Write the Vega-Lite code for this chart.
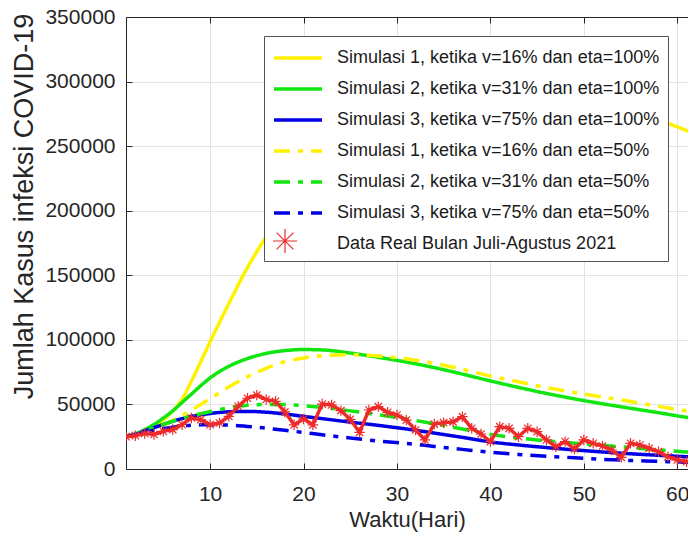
{
  "$schema": "https://vega.github.io/schema/vega-lite/v6.json",
  "width": 562,
  "height": 452,
  "autosize": {"type": "none"},
  "padding": {"left": 126, "top": 17, "right": 0, "bottom": 67},
  "background": "white",
  "config": {
    "view": {"stroke": null},
    "font": "Liberation Sans",
    "axis": {
      "domainColor": "#262626",
      "tickColor": "#262626",
      "labelColor": "#262626",
      "titleColor": "#262626",
      "gridColor": "#e3e3e3",
      "labelFont": "Liberation Sans",
      "titleFont": "Liberation Sans",
      "labelFontSize": 21,
      "titleFontWeight": "normal",
      "tickSize": -6
    }
  },
  "data": {
    "values": [
      {"series": "Simulasi 1, ketika v=16% dan eta=100%", "day": 1, "cases": 25000},
      {"series": "Simulasi 1, ketika v=16% dan eta=100%", "day": 2, "cases": 26500},
      {"series": "Simulasi 1, ketika v=16% dan eta=100%", "day": 3, "cases": 29000},
      {"series": "Simulasi 1, ketika v=16% dan eta=100%", "day": 4, "cases": 33000},
      {"series": "Simulasi 1, ketika v=16% dan eta=100%", "day": 5, "cases": 38000},
      {"series": "Simulasi 1, ketika v=16% dan eta=100%", "day": 6, "cases": 45000},
      {"series": "Simulasi 1, ketika v=16% dan eta=100%", "day": 7, "cases": 54000},
      {"series": "Simulasi 1, ketika v=16% dan eta=100%", "day": 8, "cases": 68000},
      {"series": "Simulasi 1, ketika v=16% dan eta=100%", "day": 9, "cases": 83000},
      {"series": "Simulasi 1, ketika v=16% dan eta=100%", "day": 10, "cases": 98500},
      {"series": "Simulasi 1, ketika v=16% dan eta=100%", "day": 12, "cases": 128000},
      {"series": "Simulasi 1, ketika v=16% dan eta=100%", "day": 14, "cases": 156000},
      {"series": "Simulasi 1, ketika v=16% dan eta=100%", "day": 16, "cases": 180000},
      {"series": "Simulasi 1, ketika v=16% dan eta=100%", "day": 18, "cases": 203000},
      {"series": "Simulasi 1, ketika v=16% dan eta=100%", "day": 20, "cases": 225000},
      {"series": "Simulasi 1, ketika v=16% dan eta=100%", "day": 22, "cases": 245000},
      {"series": "Simulasi 1, ketika v=16% dan eta=100%", "day": 25, "cases": 272000},
      {"series": "Simulasi 1, ketika v=16% dan eta=100%", "day": 28, "cases": 293000},
      {"series": "Simulasi 1, ketika v=16% dan eta=100%", "day": 31, "cases": 307000},
      {"series": "Simulasi 1, ketika v=16% dan eta=100%", "day": 34, "cases": 315000},
      {"series": "Simulasi 1, ketika v=16% dan eta=100%", "day": 37, "cases": 318000},
      {"series": "Simulasi 1, ketika v=16% dan eta=100%", "day": 40, "cases": 316000},
      {"series": "Simulasi 1, ketika v=16% dan eta=100%", "day": 43, "cases": 311000},
      {"series": "Simulasi 1, ketika v=16% dan eta=100%", "day": 46, "cases": 303000},
      {"series": "Simulasi 1, ketika v=16% dan eta=100%", "day": 49, "cases": 295000},
      {"series": "Simulasi 1, ketika v=16% dan eta=100%", "day": 52, "cases": 287000},
      {"series": "Simulasi 1, ketika v=16% dan eta=100%", "day": 55, "cases": 278500},
      {"series": "Simulasi 1, ketika v=16% dan eta=100%", "day": 58, "cases": 270500},
      {"series": "Simulasi 1, ketika v=16% dan eta=100%", "day": 61, "cases": 262000},
      {"series": "Simulasi 1, ketika v=16% dan eta=100%", "day": 62, "cases": 259000},

      {"series": "Simulasi 2, ketika v=31% dan eta=100%", "day": 1, "cases": 25000},
      {"series": "Simulasi 2, ketika v=31% dan eta=100%", "day": 2, "cases": 27200},
      {"series": "Simulasi 2, ketika v=31% dan eta=100%", "day": 3, "cases": 30500},
      {"series": "Simulasi 2, ketika v=31% dan eta=100%", "day": 4, "cases": 34500},
      {"series": "Simulasi 2, ketika v=31% dan eta=100%", "day": 5, "cases": 39500},
      {"series": "Simulasi 2, ketika v=31% dan eta=100%", "day": 6, "cases": 45000},
      {"series": "Simulasi 2, ketika v=31% dan eta=100%", "day": 7, "cases": 51500},
      {"series": "Simulasi 2, ketika v=31% dan eta=100%", "day": 8, "cases": 58000},
      {"series": "Simulasi 2, ketika v=31% dan eta=100%", "day": 9, "cases": 64500},
      {"series": "Simulasi 2, ketika v=31% dan eta=100%", "day": 10, "cases": 70500},
      {"series": "Simulasi 2, ketika v=31% dan eta=100%", "day": 12, "cases": 79500},
      {"series": "Simulasi 2, ketika v=31% dan eta=100%", "day": 14, "cases": 85500},
      {"series": "Simulasi 2, ketika v=31% dan eta=100%", "day": 16, "cases": 89500},
      {"series": "Simulasi 2, ketika v=31% dan eta=100%", "day": 18, "cases": 91700},
      {"series": "Simulasi 2, ketika v=31% dan eta=100%", "day": 20, "cases": 92500},
      {"series": "Simulasi 2, ketika v=31% dan eta=100%", "day": 22, "cases": 92200},
      {"series": "Simulasi 2, ketika v=31% dan eta=100%", "day": 25, "cases": 89800},
      {"series": "Simulasi 2, ketika v=31% dan eta=100%", "day": 28, "cases": 86500},
      {"series": "Simulasi 2, ketika v=31% dan eta=100%", "day": 31, "cases": 82800},
      {"series": "Simulasi 2, ketika v=31% dan eta=100%", "day": 34, "cases": 78500},
      {"series": "Simulasi 2, ketika v=31% dan eta=100%", "day": 37, "cases": 73500},
      {"series": "Simulasi 2, ketika v=31% dan eta=100%", "day": 40, "cases": 68200},
      {"series": "Simulasi 2, ketika v=31% dan eta=100%", "day": 43, "cases": 63200},
      {"series": "Simulasi 2, ketika v=31% dan eta=100%", "day": 46, "cases": 58500},
      {"series": "Simulasi 2, ketika v=31% dan eta=100%", "day": 49, "cases": 54300},
      {"series": "Simulasi 2, ketika v=31% dan eta=100%", "day": 52, "cases": 50500},
      {"series": "Simulasi 2, ketika v=31% dan eta=100%", "day": 55, "cases": 47000},
      {"series": "Simulasi 2, ketika v=31% dan eta=100%", "day": 58, "cases": 43600},
      {"series": "Simulasi 2, ketika v=31% dan eta=100%", "day": 61, "cases": 40000},
      {"series": "Simulasi 2, ketika v=31% dan eta=100%", "day": 62, "cases": 39000},

      {"series": "Simulasi 3, ketika v=75% dan eta=100%", "day": 1, "cases": 25000},
      {"series": "Simulasi 3, ketika v=75% dan eta=100%", "day": 2, "cases": 27000},
      {"series": "Simulasi 3, ketika v=75% dan eta=100%", "day": 3, "cases": 29500},
      {"series": "Simulasi 3, ketika v=75% dan eta=100%", "day": 4, "cases": 32000},
      {"series": "Simulasi 3, ketika v=75% dan eta=100%", "day": 5, "cases": 34500},
      {"series": "Simulasi 3, ketika v=75% dan eta=100%", "day": 6, "cases": 37000},
      {"series": "Simulasi 3, ketika v=75% dan eta=100%", "day": 7, "cases": 39000},
      {"series": "Simulasi 3, ketika v=75% dan eta=100%", "day": 8, "cases": 40800},
      {"series": "Simulasi 3, ketika v=75% dan eta=100%", "day": 9, "cases": 42000},
      {"series": "Simulasi 3, ketika v=75% dan eta=100%", "day": 10, "cases": 43000},
      {"series": "Simulasi 3, ketika v=75% dan eta=100%", "day": 12, "cases": 44300},
      {"series": "Simulasi 3, ketika v=75% dan eta=100%", "day": 14, "cases": 44600},
      {"series": "Simulasi 3, ketika v=75% dan eta=100%", "day": 16, "cases": 44000},
      {"series": "Simulasi 3, ketika v=75% dan eta=100%", "day": 18, "cases": 42600},
      {"series": "Simulasi 3, ketika v=75% dan eta=100%", "day": 20, "cases": 40800},
      {"series": "Simulasi 3, ketika v=75% dan eta=100%", "day": 22, "cases": 39000},
      {"series": "Simulasi 3, ketika v=75% dan eta=100%", "day": 25, "cases": 36300},
      {"series": "Simulasi 3, ketika v=75% dan eta=100%", "day": 28, "cases": 33800},
      {"series": "Simulasi 3, ketika v=75% dan eta=100%", "day": 31, "cases": 31000},
      {"series": "Simulasi 3, ketika v=75% dan eta=100%", "day": 34, "cases": 27800},
      {"series": "Simulasi 3, ketika v=75% dan eta=100%", "day": 37, "cases": 24500},
      {"series": "Simulasi 3, ketika v=75% dan eta=100%", "day": 40, "cases": 21000},
      {"series": "Simulasi 3, ketika v=75% dan eta=100%", "day": 43, "cases": 18600},
      {"series": "Simulasi 3, ketika v=75% dan eta=100%", "day": 46, "cases": 16600},
      {"series": "Simulasi 3, ketika v=75% dan eta=100%", "day": 49, "cases": 14800},
      {"series": "Simulasi 3, ketika v=75% dan eta=100%", "day": 52, "cases": 13200},
      {"series": "Simulasi 3, ketika v=75% dan eta=100%", "day": 55, "cases": 11800},
      {"series": "Simulasi 3, ketika v=75% dan eta=100%", "day": 58, "cases": 10600},
      {"series": "Simulasi 3, ketika v=75% dan eta=100%", "day": 61, "cases": 9500},
      {"series": "Simulasi 3, ketika v=75% dan eta=100%", "day": 62, "cases": 9200},

      {"series": "Simulasi 1, ketika v=16% dan eta=50%", "day": 1, "cases": 25000},
      {"series": "Simulasi 1, ketika v=16% dan eta=50%", "day": 2, "cases": 26500},
      {"series": "Simulasi 1, ketika v=16% dan eta=50%", "day": 3, "cases": 28500},
      {"series": "Simulasi 1, ketika v=16% dan eta=50%", "day": 4, "cases": 31000},
      {"series": "Simulasi 1, ketika v=16% dan eta=50%", "day": 5, "cases": 34000},
      {"series": "Simulasi 1, ketika v=16% dan eta=50%", "day": 6, "cases": 37500},
      {"series": "Simulasi 1, ketika v=16% dan eta=50%", "day": 7, "cases": 41500},
      {"series": "Simulasi 1, ketika v=16% dan eta=50%", "day": 8, "cases": 45500},
      {"series": "Simulasi 1, ketika v=16% dan eta=50%", "day": 9, "cases": 50000},
      {"series": "Simulasi 1, ketika v=16% dan eta=50%", "day": 10, "cases": 54500},
      {"series": "Simulasi 1, ketika v=16% dan eta=50%", "day": 12, "cases": 63500},
      {"series": "Simulasi 1, ketika v=16% dan eta=50%", "day": 14, "cases": 71500},
      {"series": "Simulasi 1, ketika v=16% dan eta=50%", "day": 16, "cases": 78000},
      {"series": "Simulasi 1, ketika v=16% dan eta=50%", "day": 18, "cases": 83000},
      {"series": "Simulasi 1, ketika v=16% dan eta=50%", "day": 20, "cases": 86000},
      {"series": "Simulasi 1, ketika v=16% dan eta=50%", "day": 22, "cases": 87800},
      {"series": "Simulasi 1, ketika v=16% dan eta=50%", "day": 25, "cases": 88500},
      {"series": "Simulasi 1, ketika v=16% dan eta=50%", "day": 28, "cases": 87500},
      {"series": "Simulasi 1, ketika v=16% dan eta=50%", "day": 31, "cases": 85300},
      {"series": "Simulasi 1, ketika v=16% dan eta=50%", "day": 34, "cases": 81800},
      {"series": "Simulasi 1, ketika v=16% dan eta=50%", "day": 37, "cases": 77200},
      {"series": "Simulasi 1, ketika v=16% dan eta=50%", "day": 40, "cases": 72000},
      {"series": "Simulasi 1, ketika v=16% dan eta=50%", "day": 43, "cases": 67500},
      {"series": "Simulasi 1, ketika v=16% dan eta=50%", "day": 46, "cases": 63000},
      {"series": "Simulasi 1, ketika v=16% dan eta=50%", "day": 49, "cases": 59200},
      {"series": "Simulasi 1, ketika v=16% dan eta=50%", "day": 52, "cases": 55800},
      {"series": "Simulasi 1, ketika v=16% dan eta=50%", "day": 55, "cases": 52200},
      {"series": "Simulasi 1, ketika v=16% dan eta=50%", "day": 58, "cases": 48500},
      {"series": "Simulasi 1, ketika v=16% dan eta=50%", "day": 61, "cases": 45000},
      {"series": "Simulasi 1, ketika v=16% dan eta=50%", "day": 62, "cases": 44200},

      {"series": "Simulasi 2, ketika v=31% dan eta=50%", "day": 1, "cases": 25000},
      {"series": "Simulasi 2, ketika v=31% dan eta=50%", "day": 2, "cases": 27000},
      {"series": "Simulasi 2, ketika v=31% dan eta=50%", "day": 3, "cases": 29500},
      {"series": "Simulasi 2, ketika v=31% dan eta=50%", "day": 4, "cases": 32000},
      {"series": "Simulasi 2, ketika v=31% dan eta=50%", "day": 5, "cases": 34500},
      {"series": "Simulasi 2, ketika v=31% dan eta=50%", "day": 6, "cases": 37000},
      {"series": "Simulasi 2, ketika v=31% dan eta=50%", "day": 7, "cases": 39000},
      {"series": "Simulasi 2, ketika v=31% dan eta=50%", "day": 8, "cases": 41000},
      {"series": "Simulasi 2, ketika v=31% dan eta=50%", "day": 9, "cases": 42800},
      {"series": "Simulasi 2, ketika v=31% dan eta=50%", "day": 10, "cases": 44300},
      {"series": "Simulasi 2, ketika v=31% dan eta=50%", "day": 12, "cases": 47500},
      {"series": "Simulasi 2, ketika v=31% dan eta=50%", "day": 14, "cases": 49300},
      {"series": "Simulasi 2, ketika v=31% dan eta=50%", "day": 16, "cases": 50000},
      {"series": "Simulasi 2, ketika v=31% dan eta=50%", "day": 18, "cases": 49900},
      {"series": "Simulasi 2, ketika v=31% dan eta=50%", "day": 20, "cases": 49000},
      {"series": "Simulasi 2, ketika v=31% dan eta=50%", "day": 22, "cases": 47800},
      {"series": "Simulasi 2, ketika v=31% dan eta=50%", "day": 25, "cases": 45000},
      {"series": "Simulasi 2, ketika v=31% dan eta=50%", "day": 28, "cases": 42000},
      {"series": "Simulasi 2, ketika v=31% dan eta=50%", "day": 31, "cases": 38800},
      {"series": "Simulasi 2, ketika v=31% dan eta=50%", "day": 34, "cases": 35000},
      {"series": "Simulasi 2, ketika v=31% dan eta=50%", "day": 37, "cases": 31000},
      {"series": "Simulasi 2, ketika v=31% dan eta=50%", "day": 40, "cases": 26800},
      {"series": "Simulasi 2, ketika v=31% dan eta=50%", "day": 43, "cases": 24000},
      {"series": "Simulasi 2, ketika v=31% dan eta=50%", "day": 46, "cases": 21800},
      {"series": "Simulasi 2, ketika v=31% dan eta=50%", "day": 49, "cases": 20000},
      {"series": "Simulasi 2, ketika v=31% dan eta=50%", "day": 52, "cases": 18300},
      {"series": "Simulasi 2, ketika v=31% dan eta=50%", "day": 55, "cases": 16600},
      {"series": "Simulasi 2, ketika v=31% dan eta=50%", "day": 58, "cases": 14800},
      {"series": "Simulasi 2, ketika v=31% dan eta=50%", "day": 61, "cases": 13200},
      {"series": "Simulasi 2, ketika v=31% dan eta=50%", "day": 62, "cases": 12800},

      {"series": "Simulasi 3, ketika v=75% dan eta=50%", "day": 1, "cases": 25000},
      {"series": "Simulasi 3, ketika v=75% dan eta=50%", "day": 2, "cases": 26800},
      {"series": "Simulasi 3, ketika v=75% dan eta=50%", "day": 3, "cases": 28500},
      {"series": "Simulasi 3, ketika v=75% dan eta=50%", "day": 4, "cases": 30000},
      {"series": "Simulasi 3, ketika v=75% dan eta=50%", "day": 5, "cases": 31300},
      {"series": "Simulasi 3, ketika v=75% dan eta=50%", "day": 6, "cases": 32400},
      {"series": "Simulasi 3, ketika v=75% dan eta=50%", "day": 7, "cases": 33300},
      {"series": "Simulasi 3, ketika v=75% dan eta=50%", "day": 8, "cases": 33900},
      {"series": "Simulasi 3, ketika v=75% dan eta=50%", "day": 9, "cases": 34200},
      {"series": "Simulasi 3, ketika v=75% dan eta=50%", "day": 10, "cases": 34300},
      {"series": "Simulasi 3, ketika v=75% dan eta=50%", "day": 12, "cases": 34000},
      {"series": "Simulasi 3, ketika v=75% dan eta=50%", "day": 14, "cases": 33000},
      {"series": "Simulasi 3, ketika v=75% dan eta=50%", "day": 16, "cases": 31600},
      {"series": "Simulasi 3, ketika v=75% dan eta=50%", "day": 18, "cases": 30000},
      {"series": "Simulasi 3, ketika v=75% dan eta=50%", "day": 20, "cases": 28300},
      {"series": "Simulasi 3, ketika v=75% dan eta=50%", "day": 22, "cases": 26500},
      {"series": "Simulasi 3, ketika v=75% dan eta=50%", "day": 25, "cases": 24000},
      {"series": "Simulasi 3, ketika v=75% dan eta=50%", "day": 28, "cases": 21700},
      {"series": "Simulasi 3, ketika v=75% dan eta=50%", "day": 31, "cases": 19800},
      {"series": "Simulasi 3, ketika v=75% dan eta=50%", "day": 34, "cases": 17500},
      {"series": "Simulasi 3, ketika v=75% dan eta=50%", "day": 37, "cases": 15200},
      {"series": "Simulasi 3, ketika v=75% dan eta=50%", "day": 40, "cases": 13000},
      {"series": "Simulasi 3, ketika v=75% dan eta=50%", "day": 43, "cases": 11300},
      {"series": "Simulasi 3, ketika v=75% dan eta=50%", "day": 46, "cases": 9900},
      {"series": "Simulasi 3, ketika v=75% dan eta=50%", "day": 49, "cases": 8700},
      {"series": "Simulasi 3, ketika v=75% dan eta=50%", "day": 52, "cases": 7500},
      {"series": "Simulasi 3, ketika v=75% dan eta=50%", "day": 55, "cases": 6600},
      {"series": "Simulasi 3, ketika v=75% dan eta=50%", "day": 58, "cases": 5900},
      {"series": "Simulasi 3, ketika v=75% dan eta=50%", "day": 61, "cases": 5200},
      {"series": "Simulasi 3, ketika v=75% dan eta=50%", "day": 62, "cases": 5000},

      {"series": "Data Real Bulan Juli-Agustus 2021", "day": 1, "cases": 25000},
      {"series": "Data Real Bulan Juli-Agustus 2021", "day": 2, "cases": 25800},
      {"series": "Data Real Bulan Juli-Agustus 2021", "day": 3, "cases": 27500},
      {"series": "Data Real Bulan Juli-Agustus 2021", "day": 4, "cases": 26800},
      {"series": "Data Real Bulan Juli-Agustus 2021", "day": 5, "cases": 29200},
      {"series": "Data Real Bulan Juli-Agustus 2021", "day": 6, "cases": 30500},
      {"series": "Data Real Bulan Juli-Agustus 2021", "day": 7, "cases": 34300},
      {"series": "Data Real Bulan Juli-Agustus 2021", "day": 8, "cases": 39500},
      {"series": "Data Real Bulan Juli-Agustus 2021", "day": 9, "cases": 38200},
      {"series": "Data Real Bulan Juli-Agustus 2021", "day": 10, "cases": 34300},
      {"series": "Data Real Bulan Juli-Agustus 2021", "day": 11, "cases": 35600},
      {"series": "Data Real Bulan Juli-Agustus 2021", "day": 12, "cases": 40800},
      {"series": "Data Real Bulan Juli-Agustus 2021", "day": 13, "cases": 48600},
      {"series": "Data Real Bulan Juli-Agustus 2021", "day": 14, "cases": 54800},
      {"series": "Data Real Bulan Juli-Agustus 2021", "day": 15, "cases": 57200},
      {"series": "Data Real Bulan Juli-Agustus 2021", "day": 16, "cases": 53800},
      {"series": "Data Real Bulan Juli-Agustus 2021", "day": 17, "cases": 52400},
      {"series": "Data Real Bulan Juli-Agustus 2021", "day": 18, "cases": 44200},
      {"series": "Data Real Bulan Juli-Agustus 2021", "day": 19, "cases": 34200},
      {"series": "Data Real Bulan Juli-Agustus 2021", "day": 20, "cases": 38800},
      {"series": "Data Real Bulan Juli-Agustus 2021", "day": 21, "cases": 34200},
      {"series": "Data Real Bulan Juli-Agustus 2021", "day": 22, "cases": 50300},
      {"series": "Data Real Bulan Juli-Agustus 2021", "day": 23, "cases": 49600},
      {"series": "Data Real Bulan Juli-Agustus 2021", "day": 24, "cases": 45200},
      {"series": "Data Real Bulan Juli-Agustus 2021", "day": 25, "cases": 38500},
      {"series": "Data Real Bulan Juli-Agustus 2021", "day": 26, "cases": 28400},
      {"series": "Data Real Bulan Juli-Agustus 2021", "day": 27, "cases": 45700},
      {"series": "Data Real Bulan Juli-Agustus 2021", "day": 28, "cases": 48300},
      {"series": "Data Real Bulan Juli-Agustus 2021", "day": 29, "cases": 43900},
      {"series": "Data Real Bulan Juli-Agustus 2021", "day": 30, "cases": 41800},
      {"series": "Data Real Bulan Juli-Agustus 2021", "day": 31, "cases": 37900},
      {"series": "Data Real Bulan Juli-Agustus 2021", "day": 32, "cases": 30200},
      {"series": "Data Real Bulan Juli-Agustus 2021", "day": 33, "cases": 22500},
      {"series": "Data Real Bulan Juli-Agustus 2021", "day": 34, "cases": 34800},
      {"series": "Data Real Bulan Juli-Agustus 2021", "day": 35, "cases": 35900},
      {"series": "Data Real Bulan Juli-Agustus 2021", "day": 36, "cases": 36500},
      {"series": "Data Real Bulan Juli-Agustus 2021", "day": 37, "cases": 40500},
      {"series": "Data Real Bulan Juli-Agustus 2021", "day": 38, "cases": 31500},
      {"series": "Data Real Bulan Juli-Agustus 2021", "day": 39, "cases": 27100},
      {"series": "Data Real Bulan Juli-Agustus 2021", "day": 40, "cases": 21200},
      {"series": "Data Real Bulan Juli-Agustus 2021", "day": 41, "cases": 32800},
      {"series": "Data Real Bulan Juli-Agustus 2021", "day": 42, "cases": 31500},
      {"series": "Data Real Bulan Juli-Agustus 2021", "day": 43, "cases": 25000},
      {"series": "Data Real Bulan Juli-Agustus 2021", "day": 44, "cases": 31500},
      {"series": "Data Real Bulan Juli-Agustus 2021", "day": 45, "cases": 28900},
      {"series": "Data Real Bulan Juli-Agustus 2021", "day": 46, "cases": 22500},
      {"series": "Data Real Bulan Juli-Agustus 2021", "day": 47, "cases": 17300},
      {"series": "Data Real Bulan Juli-Agustus 2021", "day": 48, "cases": 21200},
      {"series": "Data Real Bulan Juli-Agustus 2021", "day": 49, "cases": 15500},
      {"series": "Data Real Bulan Juli-Agustus 2021", "day": 50, "cases": 22500},
      {"series": "Data Real Bulan Juli-Agustus 2021", "day": 51, "cases": 19900},
      {"series": "Data Real Bulan Juli-Agustus 2021", "day": 52, "cases": 17800},
      {"series": "Data Real Bulan Juli-Agustus 2021", "day": 53, "cases": 14700},
      {"series": "Data Real Bulan Juli-Agustus 2021", "day": 54, "cases": 9000},
      {"series": "Data Real Bulan Juli-Agustus 2021", "day": 55, "cases": 19900},
      {"series": "Data Real Bulan Juli-Agustus 2021", "day": 56, "cases": 18600},
      {"series": "Data Real Bulan Juli-Agustus 2021", "day": 57, "cases": 16000},
      {"series": "Data Real Bulan Juli-Agustus 2021", "day": 58, "cases": 13400},
      {"series": "Data Real Bulan Juli-Agustus 2021", "day": 59, "cases": 9500},
      {"series": "Data Real Bulan Juli-Agustus 2021", "day": 60, "cases": 7000},
      {"series": "Data Real Bulan Juli-Agustus 2021", "day": 61, "cases": 5700}
    ]
  },
  "encoding": {
    "y": {
      "field": "cases", "type": "quantitative",
      "scale": {"domain": [0, 350000], "nice": false},
      "axis": {
        "values": [0, 50000, 100000, 150000, 200000, 250000, 300000, 350000],
        "format": "d", "title": "Jumlah Kasus infeksi COVID-19",
        "titleFontSize": 27, "titleX": -94, "titleY": 189, "titleAngle": -90,
        "titleBaseline": "alphabetic", "titleAlign": "center",
        "labelPadding": 17, "grid": true
      }
    }
  },
  "layer": [
    {
      "transform": [{"filter": "datum.series !== 'Data Real Bulan Juli-Agustus 2021'"}],
      "mark": {"type": "line", "interpolate": "monotone", "clip": true},
      "encoding": {
        "x": {
          "field": "day", "type": "quantitative",
          "scale": {"domain": [1, 61.15], "nice": false, "zero": false},
          "axis": {
            "values": [10, 20, 30, 40, 50, 60],
            "title": "Waktu(Hari)", "titleFontSize": 22, "titlePadding": 5,
            "labelPadding": 20, "labelFlush": false, "grid": true
          }
        },
        "color": {
          "field": "series", "type": "nominal",
          "scale": {
            "domain": [
              "Simulasi 1, ketika v=16% dan eta=100%",
              "Simulasi 2, ketika v=31% dan eta=100%",
              "Simulasi 3, ketika v=75% dan eta=100%",
              "Simulasi 1, ketika v=16% dan eta=50%",
              "Simulasi 2, ketika v=31% dan eta=50%",
              "Simulasi 3, ketika v=75% dan eta=50%",
              "Data Real Bulan Juli-Agustus 2021"
            ],
            "range": ["#fff200", "#11e611", "#0000e6", "#fff200", "#11e611", "#0000e6", "#ee2a2a"]
          },
          "legend": {
            "orient": "none", "legendX": 138, "legendY": 19, "title": null,
            "fillColor": "white", "strokeColor": "#555555", "padding": 8,
            "labelFont": "Liberation Sans", "labelFontSize": 18, "labelColor": "#1a1a1a", "labelLimit": 0,
            "symbolType": "M-1,0H3", "symbolSize": 576, "labelOffset": 37, "rowPadding": 8,
            "encode": {
              "symbols": {
                "update": {
                  "shape": {"signal": "datum.value === 'Data Real Bulan Juli-Agustus 2021' ? 'M0,0' : 'M-1,0H3'"}
                }
              }
            }
          }
        },
        "strokeDash": {
          "field": "series", "type": "nominal",
          "scale": {
            "domain": [
              "Simulasi 1, ketika v=16% dan eta=100%",
              "Simulasi 2, ketika v=31% dan eta=100%",
              "Simulasi 3, ketika v=75% dan eta=100%",
              "Simulasi 1, ketika v=16% dan eta=50%",
              "Simulasi 2, ketika v=31% dan eta=50%",
              "Simulasi 3, ketika v=75% dan eta=50%",
              "Data Real Bulan Juli-Agustus 2021"
            ],
            "range": [[1, 0], [1, 0], [1, 0], [16, 8, 5, 8], [16, 8, 5, 8], [16, 8, 5, 8], [1, 0]]
          }
        },
        "strokeWidth": {
          "field": "series", "type": "nominal",
          "scale": {
            "domain": [
              "Simulasi 1, ketika v=16% dan eta=100%",
              "Simulasi 2, ketika v=31% dan eta=100%",
              "Simulasi 3, ketika v=75% dan eta=100%",
              "Simulasi 1, ketika v=16% dan eta=50%",
              "Simulasi 2, ketika v=31% dan eta=50%",
              "Simulasi 3, ketika v=75% dan eta=50%",
              "Data Real Bulan Juli-Agustus 2021"
            ],
            "range": [3.5, 3.5, 3.5, 3.5, 3.5, 3.5, 1]
          }
        }
      }
    },
    {
      "transform": [{"filter": "datum.series === 'Data Real Bulan Juli-Agustus 2021'"}],
      "mark": {"type": "line", "interpolate": "linear", "clip": true},
      "encoding": {
        "x": {
          "field": "day", "type": "quantitative",
          "axis": {"orient": "top", "labels": false, "title": null, "grid": false, "values": [10, 20, 30, 40, 50, 60]}
        },
        "color": {"field": "series", "type": "nominal"},
        "strokeDash": {"field": "series", "type": "nominal"},
        "strokeWidth": {"field": "series", "type": "nominal"}
      }
    },
    {
      "transform": [{"filter": "datum.series === 'Data Real Bulan Juli-Agustus 2021'"}],
      "mark": {
        "type": "point", "clip": true, "filled": false,
        "shape": "M-1,0H1M0,-1V1M-0.7,-0.7L0.7,0.7M-0.7,0.7L0.7,-0.7",
        "size": 110, "stroke": "#ee2a2a", "strokeWidth": 1.2
      },
      "encoding": {
        "x": {"field": "day", "type": "quantitative", "axis": null},
        "opacity": {
          "field": "series", "type": "ordinal",
          "scale": {"domain": ["Data Real Bulan Juli-Agustus 2021"], "range": [1]},
          "legend": {
            "orient": "none", "legendX": 146, "legendY": 211, "title": null,
            "padding": 0, "fillColor": null, "strokeColor": null,
            "labelExpr": "''", "symbolSize": 576, "symbolStrokeWidth": 1.2,
            "symbolStrokeColor": "#ee2a2a", "symbolFillColor": "transparent",
            "encode": {
              "symbols": {
                "update": {
                  "shape": {"signal": "'M-1,0H3M0.55,0H1.45M1,-0.45V0.45M0.68,-0.32L1.32,0.32M0.68,0.32L1.32,-0.32'"}
                }
              }
            }
          }
        }
      }
    }
  ],
  "resolve": {"axis": {"x": "independent"}}
}
